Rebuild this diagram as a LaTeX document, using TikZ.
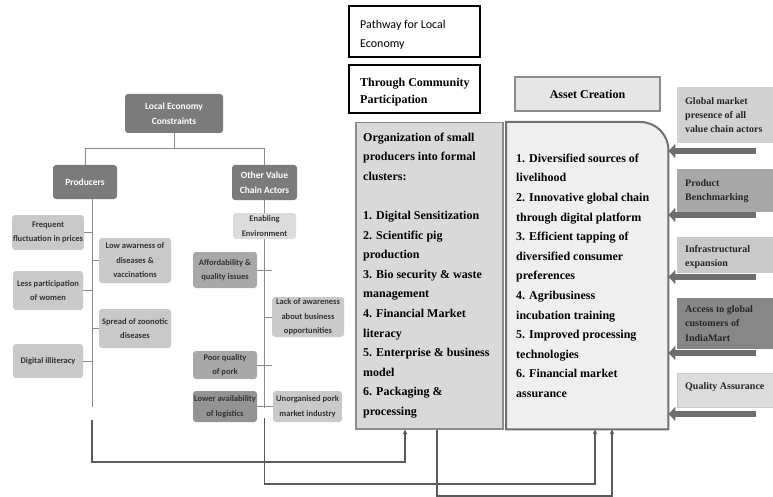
\documentclass[tikz,border=0pt]{standalone}
\usepackage{fontspec}
\setmainfont{Liberation Serif}
\newfontfamily\carlito{Carlito}
\usetikzlibrary{arrows.meta}
\definecolor{headfill}{HTML}{7B7B7B}
\definecolor{sidefill}{HTML}{C9C9C9}
\definecolor{lightfill}{HTML}{DCDCDC}
\definecolor{midfill}{HTML}{A8A8A8}
\definecolor{darkfill}{HTML}{939393}
\definecolor{treeline}{HTML}{8A8A8A}
\definecolor{flowline}{HTML}{5A5A5A}
\definecolor{orgfill}{HTML}{D9D9D9}
\definecolor{orgline}{HTML}{8C8C8C}
\definecolor{assetfill}{HTML}{EFEFEF}
\definecolor{assetline}{HTML}{707070}
\definecolor{bigarr}{HTML}{6D6D6D}
\begin{document}
\begin{tikzpicture}[x=1pt,y=-1pt,
  sz/.style 2 args={minimum width=#1pt,minimum height=#2pt},
  headbox/.style={rounded corners=3pt,fill=headfill,text=white,align=center,inner sep=1pt,
    font=\carlito\bfseries\fontsize{9.5}{15.5}\selectfont},
  sidebox/.style={rounded corners=3pt,fill=sidefill,text=black!80,align=center,inner sep=1pt,
    font=\carlito\bfseries\fontsize{8.5}{14.5}\selectfont},
  treeconn/.style={draw=treeline,line width=1pt},
  flowconn/.style={draw=flowline,line width=1.6pt,-{Stealth[length=5pt,width=4.5pt]}},
  plainbox/.style={inner sep=0pt},
  serifbold/.style={font=\bfseries\fontsize{12}{19.6}\selectfont,align=left,inner sep=0pt,anchor=north west},
  rightbox/.style={inner sep=0pt,sz={98}{#1}},
  righttext/.style={font=\bfseries\fontsize{10}{14.2}\selectfont,align=left,inner sep=0pt,anchor=north west,text=black!85},
  bigarrow/.style={draw=bigarr,line width=6.5pt,-{Triangle[length=7pt,width=14pt]}}
]
\useasboundingbox (0,0) rectangle (773,497);

% ---------- left tree ----------
\node[headbox,sz={98}{39}] (lec) at (174,113.5) {Local Economy\\Constraints};
\node[headbox,sz={64}{34}] (prod) at (85,182) {Producers};
\node[headbox,sz={65}{35}] (ovca) at (264.5,182.5) {Other Value\\Chain Actors};

\draw[treeconn] (lec.south) -- ++(0,15) -| (prod.north);
\draw[treeconn] (lec.south) -- ++(0,15) -| (ovca.north);

\node[sidebox,sz={70}{35}] (freq) at (48,232.5) {Frequent\\fluctuation in prices};
\node[sidebox,sz={72}{45}] (low) at (135,260.5) {Low awarness of\\diseases \&\\vaccinations};
\node[sidebox,sz={70}{39}] (less) at (48,290.5) {Less participation\\of women};
\node[sidebox,sz={72}{39}] (spread) at (135,328.5) {Spread of zoonotic\\diseases};
\node[sidebox,sz={70}{34}] (digi) at (48,361) {Digital illiteracy};

\coordinate (ps) at (92,199);
\coordinate (pe) at (92,407);
\draw[treeconn] (ps) -- (pe);
\draw[treeconn] (freq.east) -- (freq.east -| ps);
\draw[treeconn] (low.west) -- (low.west -| ps);
\draw[treeconn] (less.east) -- (less.east -| ps);
\draw[treeconn] (spread.west) -- (spread.west -| ps);
\draw[treeconn] (digi.east) -- (digi.east -| ps);

\coordinate (oe) at (264.5,408);
\draw[treeconn] (ovca.south) -- (oe);
\node[sidebox,fill=lightfill,sz={63}{26}] (enab) at (264.5,226) {Enabling\\Environment};
\node[sidebox,fill=midfill,sz={64}{36}] (afford) at (225,270) {Affordability \&\\quality issues};
\node[sidebox,fill=lightfill!92!black,sz={72}{40}] (lack) at (308,317) {Lack of awareness\\about business\\opportunities};
\node[sidebox,fill=midfill,sz={64}{28}] (poor) at (225,365) {Poor quality\\of pork};
\node[sidebox,fill=darkfill,sz={64}{31}] (lower) at (225,406.5) {Lower availability\\of logistics};
\node[sidebox,sz={69}{31}] (unorg) at (307.5,406.5) {Unorganised pork\\market industry};

\draw[treeconn] (afford.east) -- (afford.east -| lack.west);
\draw[treeconn] (lack.west) -- (lack.west -| oe);
\draw[treeconn] (poor.east) -- (poor.east -| lack.west);
\draw[treeconn] (lower.east) -- (unorg.west);

% ---------- middle ----------
\node[plainbox,draw=black,line width=2.2pt,sz={131}{51}] (pw) at (414.5,31.5) {};
\node[inner sep=0pt,anchor=north west,align=left,font=\carlito\fontsize{12}{19}\selectfont] (pwt) at (360,20) {Pathway for Local\\Economy};
\node[plainbox,draw=black,line width=2.2pt,sz={131}{48}] (tcp) at (414.5,89) {};
\node[inner sep=0pt,anchor=north west,align=left,font=\bfseries\fontsize{12}{17}\selectfont] (tcpt) at (360,77.5) {Through Community\\Participation};

\node[plainbox,draw=orgline,fill=orgfill,line width=1.5pt,sz={147}{306},anchor=north west] (org) at (355,122) {};
\node[serifbold] (orgt) at (363,132.5) {Organization of small\\producers into formal\\clusters:\\[19.6pt]1. Digital Sensitization\\2. Scientific pig\\production\\3. Bio security \& waste\\management\\4. Financial Market\\literacy\\5. Enterprise \& business\\model\\6. Packaging \&\\processing};

\node[plainbox,draw=orgline,fill=lightfill!70!white,line width=1.2pt,sz={145}{34},font=\bfseries\fontsize{12}{14}\selectfont] (ac) at (587.5,94) {Asset Creation};

\node[plainbox,sz={162}{307},anchor=north west] (asset) at (506,122) {};
\draw[draw=assetline,fill=assetfill,line width=2pt] (asset.south west) -- (asset.north west) -- ([xshift=-28pt]asset.north east) arc[start angle=-90,end angle=0,radius=28] -- (asset.south east) -- cycle;
\node[serifbold] (assett) at (516,153.7) {1. Diversified sources of\\livelihood\\2. Innovative global chain\\through digital platform\\3. Efficient tapping of\\diversified consumer\\preferences\\4. Agribusiness\\incubation training\\5. Improved processing\\technologies\\6. Financial market\\assurance};

% ---------- right boxes ----------
\node[rightbox=56,fill=lightfill!95!black,anchor=west] (gm) at (677,115) {};
\node[righttext] (gmt) at (685,97) {Global market\\presence of all\\value chain actors};
\node[rightbox=43,fill=midfill,anchor=west] (pb) at (677,190.5) {};
\node[righttext] (pbt) at (685,179.5) {Product\\Benchmarking};
\node[rightbox=36,fill=sidefill,anchor=west] (ie) at (677,255) {};
\node[righttext] (iet) at (685,245) {Infrastructural\\expansion};
\node[rightbox=51,fill=darkfill!92!black,anchor=west] (ag) at (677,323.5) {};
\node[righttext] (agt) at (685,305.5) {Access to global\\customers of\\IndiaMart};
\node[rightbox=34,fill=assetfill!92!black,draw=sidefill,line width=0.8pt,anchor=west] (qa) at (677,390) {};
\node[righttext] (qat) at (685,382) {Quality Assurance};

\coordinate (a1) at (756,151);
\coordinate (a2) at (756,215);
\coordinate (a3) at (756,277);
\coordinate (a4) at (756,353);
\coordinate (a5) at (756,414);
\foreach \a in {a1,a2,a3,a4,a5}{
  \draw[bigarrow] (\a) -- (\a -| asset.east);
}

% ---------- bottom flow connectors ----------
\coordinate (b1s) at (92,420);
\coordinate (b1e) at (405,462);
\draw[flowconn] (b1s) |- (b1e) -- (b1e |- org.south);
\coordinate (b2s) at (264.5,418);
\coordinate (b2e) at (595,484);
\draw[flowconn] (b2s) |- (b2e) -- (b2e |- asset.south);
\coordinate (b3s) at (437,496);
\coordinate (b3e) at (612,496);
\draw[flowconn] (b3s |- org.south) -- (b3s) -- (b3e) -- (b3e |- asset.south);
\end{tikzpicture}
\end{document}
